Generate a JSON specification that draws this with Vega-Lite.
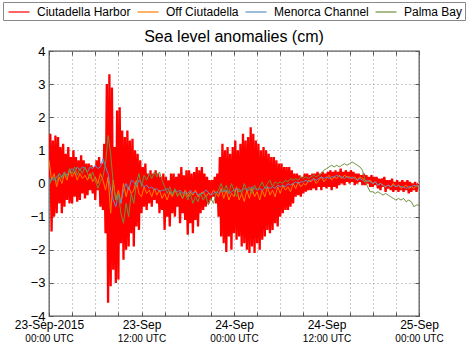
{
  "$schema": "https://vega.github.io/schema/vega-lite/v6.json",
  "width": 370,
  "height": 265,
  "autosize": {"type": "none"},
  "padding": {"left": 49, "top": 51, "right": 49, "bottom": 37},
  "background": "white",
  "config": {
    "font": "Liberation Sans",
    "view": {"stroke": "#555", "strokeWidth": 1.3},
    "axis": {"labelFont": "Liberation Sans", "labelColor": "#000", "title": null}
  },
  "title": {"text": "Sea level anomalies (cm)", "fontSize": 16, "fontWeight": "normal", "font": "Liberation Sans", "anchor": "middle", "frame": "group", "baseline": "alphabetic", "offset": -56, "color": "#000"},
  "datasets": {
    "ch": [
      {"m":0,"v":0.2},{"m":10,"v":1.5},{"m":20,"v":-1.45},{"m":30,"v":1.3},{"m":40,"v":-1.0},{"m":50,"v":1.45},
      {"m":60,"v":-0.9},{"m":70,"v":1.4},{"m":80,"v":-0.6},{"m":90,"v":1.1},{"m":100,"v":-0.9},{"m":110,"v":1.2},
      {"m":120,"v":-0.7},{"m":130,"v":0.9},{"m":140,"v":-0.5},{"m":150,"v":1.1},{"m":160,"v":-0.6},{"m":170,"v":0.8},
      {"m":180,"v":-0.6},{"m":190,"v":1.0},{"m":200,"v":-0.4},{"m":210,"v":0.8},{"m":220,"v":-0.55},{"m":230,"v":0.7},
      {"m":240,"v":-0.5},{"m":250,"v":0.85},{"m":260,"v":-0.3},{"m":270,"v":0.7},{"m":280,"v":-0.45},{"m":290,"v":0.6},
      {"m":300,"v":-0.35},{"m":310,"v":0.6},{"m":320,"v":-0.2},{"m":330,"v":0.55},{"m":340,"v":-0.3},{"m":350,"v":0.5},
      {"m":360,"v":-0.5},{"m":370,"v":0.7},{"m":380,"v":-0.2},{"m":390,"v":0.8},{"m":400,"v":-0.7},{"m":410,"v":0.6},
      {"m":420,"v":-0.8},{"m":430,"v":1.2},{"m":440,"v":-1.5},{"m":450,"v":3.0},{"m":460,"v":-3.6},{"m":470,"v":3.3},
      {"m":480,"v":-3.1},{"m":490,"v":2.9},{"m":500,"v":-2.6},{"m":510,"v":1.1},{"m":520,"v":-3.0},{"m":530,"v":2.2},
      {"m":540,"v":-2.9},{"m":550,"v":2.3},{"m":560,"v":-1.8},{"m":570,"v":1.6},{"m":580,"v":-2.3},{"m":590,"v":1.4},
      {"m":600,"v":-2.0},{"m":610,"v":1.6},{"m":620,"v":-1.9},{"m":630,"v":1.3},{"m":640,"v":-1.5},{"m":650,"v":1.35},
      {"m":660,"v":-1.9},{"m":670,"v":1.0},{"m":680,"v":-1.3},{"m":690,"v":0.9},{"m":700,"v":-1.4},{"m":710,"v":0.7},
      {"m":720,"v":-0.9},{"m":730,"v":0.5},{"m":740,"v":-0.7},{"m":750,"v":0.6},{"m":760,"v":-0.8},{"m":770,"v":0.3},
      {"m":780,"v":-0.6},{"m":790,"v":0.4},{"m":800,"v":-0.7},{"m":810,"v":0.3},{"m":820,"v":-0.5},{"m":830,"v":0.4},
      {"m":840,"v":-0.6},{"m":850,"v":0.3},{"m":860,"v":-0.9},{"m":870,"v":0.2},{"m":880,"v":-0.8},{"m":890,"v":0.3},
      {"m":900,"v":-1.4},{"m":910,"v":0.2},{"m":920,"v":-1.0},{"m":930,"v":0.1},{"m":940,"v":-1.3},{"m":950,"v":0.3},
      {"m":960,"v":-0.9},{"m":970,"v":0.3},{"m":980,"v":-1.0},{"m":990,"v":0.2},{"m":1000,"v":-0.7},{"m":1010,"v":0.3},
      {"m":1020,"v":-1.2},{"m":1030,"v":0.5},{"m":1040,"v":-0.9},{"m":1050,"v":0.25},{"m":1060,"v":-1.1},{"m":1070,"v":0.4},
      {"m":1080,"v":-1.55},{"m":1090,"v":0.4},{"m":1100,"v":-1.2},{"m":1110,"v":0.3},{"m":1120,"v":-1.5},{"m":1130,"v":0.35},
      {"m":1140,"v":-1.1},{"m":1150,"v":0.5},{"m":1160,"v":-1.3},{"m":1170,"v":0.4},{"m":1180,"v":-0.9},{"m":1190,"v":0.5},
      {"m":1200,"v":-0.8},{"m":1210,"v":0.3},{"m":1220,"v":-0.7},{"m":1230,"v":0.2},{"m":1240,"v":-0.6},{"m":1250,"v":0.1},
      {"m":1260,"v":-0.5},{"m":1270,"v":0.1},{"m":1280,"v":-0.4},{"m":1290,"v":0.2},{"m":1300,"v":-0.6},{"m":1310,"v":0.3},
      {"m":1320,"v":-1.0},{"m":1330,"v":0.8},{"m":1340,"v":-1.6},{"m":1350,"v":1.2},{"m":1360,"v":-1.8},{"m":1370,"v":1.0},
      {"m":1380,"v":-2.07},{"m":1390,"v":1.1},{"m":1400,"v":-1.6},{"m":1410,"v":0.9},{"m":1420,"v":-2.0},{"m":1430,"v":1.1},
      {"m":1440,"v":-1.5},{"m":1450,"v":1.3},{"m":1460,"v":-1.7},{"m":1470,"v":1.0},{"m":1480,"v":-1.6},{"m":1490,"v":1.2},
      {"m":1500,"v":-1.9},{"m":1510,"v":1.5},{"m":1520,"v":-1.8},{"m":1530,"v":1.3},{"m":1540,"v":-2.0},{"m":1550,"v":1.4},
      {"m":1560,"v":-2.1},{"m":1570,"v":1.7},{"m":1580,"v":-1.9},{"m":1590,"v":1.5},{"m":1600,"v":-2.1},{"m":1610,"v":1.3},
      {"m":1620,"v":-1.8},{"m":1630,"v":1.2},{"m":1640,"v":-2.0},{"m":1650,"v":1.0},{"m":1660,"v":-1.7},{"m":1670,"v":1.1},
      {"m":1680,"v":-1.6},{"m":1690,"v":1.0},{"m":1700,"v":-1.4},{"m":1710,"v":0.9},{"m":1720,"v":-1.5},{"m":1730,"v":0.8},
      {"m":1740,"v":-1.4},{"m":1750,"v":0.8},{"m":1760,"v":-1.2},{"m":1770,"v":0.7},{"m":1780,"v":-1.3},{"m":1790,"v":0.6},
      {"m":1800,"v":-1.0},{"m":1810,"v":0.6},{"m":1820,"v":-0.9},{"m":1830,"v":0.5},{"m":1840,"v":-0.8},{"m":1850,"v":0.5},
      {"m":1860,"v":-0.8},{"m":1870,"v":0.5},{"m":1880,"v":-0.7},{"m":1890,"v":0.4},{"m":1900,"v":-0.6},{"m":1910,"v":0.3},
      {"m":1920,"v":-0.4},{"m":1930,"v":0.3},{"m":1940,"v":-0.35},{"m":1950,"v":0.25},{"m":1960,"v":-0.4},{"m":1970,"v":0.2},
      {"m":1980,"v":-0.3},{"m":1990,"v":0.3},{"m":2000,"v":-0.25},{"m":2010,"v":0.3},{"m":2020,"v":-0.2},{"m":2030,"v":0.25},
      {"m":2040,"v":-0.2},{"m":2050,"v":0.3},{"m":2060,"v":-0.15},{"m":2070,"v":0.3},{"m":2080,"v":-0.2},{"m":2090,"v":0.35},
      {"m":2100,"v":-0.1},{"m":2110,"v":0.3},{"m":2120,"v":-0.2},{"m":2130,"v":0.35},{"m":2140,"v":-0.1},{"m":2150,"v":0.3},
      {"m":2160,"v":-0.15},{"m":2170,"v":0.35},{"m":2180,"v":-0.1},{"m":2190,"v":0.4},{"m":2200,"v":-0.2},{"m":2210,"v":0.35},
      {"m":2220,"v":-0.1},{"m":2230,"v":0.4},{"m":2240,"v":-0.15},{"m":2250,"v":0.35},{"m":2260,"v":-0.05},{"m":2270,"v":0.45},
      {"m":2280,"v":0.0},{"m":2290,"v":0.35},{"m":2300,"v":-0.05},{"m":2310,"v":0.4},{"m":2320,"v":0.05},{"m":2330,"v":0.35},
      {"m":2340,"v":0.0},{"m":2350,"v":0.4},{"m":2360,"v":0.05},{"m":2370,"v":0.35},{"m":2380,"v":-0.05},{"m":2390,"v":0.3},
      {"m":2400,"v":0.0},{"m":2410,"v":0.3},{"m":2420,"v":0.05},{"m":2430,"v":0.25},{"m":2440,"v":-0.05},{"m":2450,"v":0.3},
      {"m":2460,"v":-0.05},{"m":2470,"v":0.25},{"m":2480,"v":0.0},{"m":2490,"v":0.2},{"m":2500,"v":-0.1},{"m":2510,"v":0.25},
      {"m":2520,"v":-0.1},{"m":2530,"v":0.2},{"m":2540,"v":-0.05},{"m":2550,"v":0.2},{"m":2560,"v":-0.15},{"m":2570,"v":0.15},
      {"m":2580,"v":-0.2},{"m":2590,"v":0.15},{"m":2600,"v":-0.1},{"m":2610,"v":0.2},{"m":2620,"v":-0.25},{"m":2630,"v":0.1},
      {"m":2640,"v":-0.15},{"m":2650,"v":0.1},{"m":2660,"v":-0.2},{"m":2670,"v":0.15},{"m":2680,"v":-0.25},{"m":2690,"v":0.05},
      {"m":2700,"v":-0.2},{"m":2710,"v":0.1},{"m":2720,"v":-0.25},{"m":2730,"v":0.05},{"m":2740,"v":-0.2},{"m":2750,"v":0.1},
      {"m":2760,"v":-0.25},{"m":2770,"v":0.05},{"m":2780,"v":-0.2},{"m":2790,"v":0.1},{"m":2800,"v":-0.3},{"m":2810,"v":0.05},
      {"m":2820,"v":-0.25},{"m":2830,"v":0.0},{"m":2840,"v":-0.2},{"m":2850,"v":0.05},{"m":2860,"v":-0.25},{"m":2870,"v":-0.05},
      {"m":2880,"v":-0.1}
    ],
    "oc": [
      {"m":0,"v":0.7},{"m":20,"v":0.1},{"m":40,"v":0.3},{"m":60,"v":-0.1},{"m":80,"v":0.2},{"m":100,"v":0.0},
      {"m":120,"v":0.3},{"m":140,"v":0.1},{"m":160,"v":0.4},{"m":180,"v":0.2},{"m":200,"v":0.35},{"m":220,"v":0.1},
      {"m":240,"v":0.3},{"m":260,"v":0.15},{"m":280,"v":0.25},{"m":300,"v":0.1},{"m":320,"v":0.3},{"m":340,"v":0.05},
      {"m":360,"v":0.2},{"m":380,"v":0.0},{"m":400,"v":0.3},{"m":420,"v":0.1},{"m":440,"v":-0.2},{"m":460,"v":0.2},
      {"m":480,"v":-0.9},{"m":500,"v":0.1},{"m":520,"v":-0.5},{"m":540,"v":-0.2},{"m":560,"v":-0.6},{"m":580,"v":0.0},
      {"m":600,"v":-0.4},{"m":620,"v":-0.1},{"m":640,"v":-0.3},{"m":660,"v":-0.2},{"m":680,"v":0.1},{"m":700,"v":-0.3},
      {"m":720,"v":-0.4},{"m":740,"v":-0.1},{"m":760,"v":-0.3},{"m":780,"v":-0.2},{"m":800,"v":-0.4},{"m":820,"v":-0.15},
      {"m":840,"v":-0.35},{"m":860,"v":-0.2},{"m":880,"v":-0.45},{"m":900,"v":-0.3},{"m":920,"v":-0.5},{"m":940,"v":-0.25},
      {"m":960,"v":-0.4},{"m":980,"v":-0.2},{"m":1000,"v":-0.35},{"m":1020,"v":-0.3},{"m":1040,"v":-0.45},{"m":1060,"v":-0.2},
      {"m":1080,"v":-0.4},{"m":1100,"v":-0.25},{"m":1120,"v":-0.35},{"m":1140,"v":-0.2},{"m":1160,"v":-0.4},{"m":1180,"v":-0.3},
      {"m":1200,"v":-0.25},{"m":1220,"v":-0.4},{"m":1240,"v":-0.3},{"m":1260,"v":-0.35},{"m":1280,"v":-0.2},{"m":1300,"v":-0.3},
      {"m":1320,"v":-0.4},{"m":1340,"v":-0.15},{"m":1360,"v":-0.45},{"m":1380,"v":-0.2},{"m":1400,"v":-0.5},{"m":1420,"v":-0.3},
      {"m":1440,"v":-0.4},{"m":1460,"v":-0.1},{"m":1480,"v":-0.5},{"m":1500,"v":-0.3},{"m":1520,"v":-0.55},{"m":1540,"v":-0.2},
      {"m":1560,"v":-0.45},{"m":1580,"v":-0.15},{"m":1600,"v":-0.4},{"m":1620,"v":-0.25},{"m":1640,"v":-0.5},{"m":1660,"v":-0.2},
      {"m":1680,"v":-0.4},{"m":1700,"v":-0.1},{"m":1720,"v":-0.35},{"m":1740,"v":-0.2},{"m":1760,"v":-0.4},{"m":1780,"v":-0.1},
      {"m":1800,"v":-0.3},{"m":1820,"v":-0.05},{"m":1840,"v":-0.2},{"m":1860,"v":-0.1},{"m":1880,"v":-0.25},{"m":1900,"v":0.0},
      {"m":1920,"v":-0.15},{"m":1940,"v":0.05},{"m":1960,"v":-0.1},{"m":1980,"v":0.0},{"m":2000,"v":-0.05},{"m":2020,"v":0.1},
      {"m":2040,"v":0.05},{"m":2060,"v":0.15},{"m":2080,"v":0.0},{"m":2100,"v":0.1},{"m":2120,"v":0.2},{"m":2140,"v":0.05},
      {"m":2160,"v":0.15},{"m":2180,"v":0.25},{"m":2200,"v":0.1},{"m":2220,"v":0.2},{"m":2240,"v":0.15},{"m":2260,"v":0.25},
      {"m":2280,"v":0.15},{"m":2300,"v":0.25},{"m":2320,"v":0.2},{"m":2340,"v":0.2},{"m":2360,"v":0.15},{"m":2380,"v":0.2},
      {"m":2400,"v":0.1},{"m":2420,"v":0.2},{"m":2440,"v":0.15},{"m":2460,"v":0.1},{"m":2480,"v":0.05},{"m":2500,"v":0.1},
      {"m":2520,"v":0.0},{"m":2540,"v":0.05},{"m":2560,"v":-0.05},{"m":2580,"v":0.0},{"m":2600,"v":-0.05},{"m":2620,"v":-0.1},
      {"m":2640,"v":-0.05},{"m":2660,"v":-0.1},{"m":2680,"v":0.0},{"m":2700,"v":-0.1},{"m":2720,"v":-0.05},{"m":2740,"v":-0.15},
      {"m":2760,"v":-0.1},{"m":2780,"v":-0.05},{"m":2800,"v":-0.15},{"m":2820,"v":-0.1},{"m":2840,"v":-0.15},{"m":2860,"v":-0.05},
      {"m":2880,"v":-0.1}
    ],
    "mc": [
      {"m":0,"v":0.0},{"m":20,"v":0.15},{"m":40,"v":0.1},{"m":60,"v":0.2},{"m":80,"v":0.3},{"m":100,"v":0.2},
      {"m":120,"v":0.35},{"m":140,"v":0.25},{"m":160,"v":0.4},{"m":180,"v":0.45},{"m":200,"v":0.35},{"m":220,"v":0.5},
      {"m":240,"v":0.4},{"m":260,"v":0.5},{"m":280,"v":0.45},{"m":300,"v":0.35},{"m":320,"v":0.5},{"m":340,"v":0.45},
      {"m":360,"v":0.55},{"m":380,"v":0.45},{"m":400,"v":0.5},{"m":420,"v":0.75},{"m":440,"v":0.5},{"m":460,"v":0.3},
      {"m":480,"v":-0.2},{"m":500,"v":-0.5},{"m":520,"v":-0.7},{"m":540,"v":-0.3},{"m":560,"v":-0.6},{"m":580,"v":-0.2},
      {"m":600,"v":0.0},{"m":620,"v":-0.2},{"m":640,"v":0.1},{"m":660,"v":0.05},{"m":680,"v":-0.1},{"m":700,"v":0.1},
      {"m":720,"v":0.0},{"m":740,"v":-0.1},{"m":760,"v":-0.05},{"m":780,"v":-0.15},{"m":800,"v":-0.1},{"m":820,"v":-0.2},
      {"m":840,"v":-0.15},{"m":860,"v":-0.25},{"m":880,"v":-0.2},{"m":900,"v":-0.2},{"m":920,"v":-0.15},{"m":940,"v":-0.25},
      {"m":960,"v":-0.3},{"m":980,"v":-0.2},{"m":1000,"v":-0.25},{"m":1020,"v":-0.2},{"m":1040,"v":-0.3},{"m":1060,"v":-0.25},
      {"m":1080,"v":-0.3},{"m":1100,"v":-0.2},{"m":1120,"v":-0.3},{"m":1140,"v":-0.25},{"m":1160,"v":-0.35},{"m":1180,"v":-0.3},
      {"m":1200,"v":-0.3},{"m":1220,"v":-0.2},{"m":1240,"v":-0.25},{"m":1260,"v":-0.35},{"m":1280,"v":-0.3},{"m":1300,"v":-0.25},
      {"m":1320,"v":-0.3},{"m":1340,"v":-0.2},{"m":1360,"v":-0.25},{"m":1380,"v":-0.2},{"m":1400,"v":-0.3},{"m":1420,"v":-0.25},
      {"m":1440,"v":-0.2},{"m":1460,"v":-0.15},{"m":1480,"v":-0.25},{"m":1500,"v":-0.2},{"m":1520,"v":-0.15},{"m":1540,"v":-0.2},
      {"m":1560,"v":-0.2},{"m":1580,"v":-0.1},{"m":1600,"v":-0.15},{"m":1620,"v":-0.2},{"m":1640,"v":-0.15},{"m":1660,"v":-0.2},
      {"m":1680,"v":-0.15},{"m":1700,"v":-0.1},{"m":1720,"v":-0.15},{"m":1740,"v":-0.1},{"m":1760,"v":-0.15},{"m":1780,"v":-0.05},
      {"m":1800,"v":-0.1},{"m":1820,"v":-0.05},{"m":1840,"v":-0.1},{"m":1860,"v":0.0},{"m":1880,"v":-0.05},{"m":1900,"v":0.0},
      {"m":1920,"v":0.05},{"m":1940,"v":0.0},{"m":1960,"v":0.05},{"m":1980,"v":0.05},{"m":2000,"v":0.1},{"m":2020,"v":0.05},
      {"m":2040,"v":0.1},{"m":2060,"v":0.15},{"m":2080,"v":0.1},{"m":2100,"v":0.15},{"m":2120,"v":0.2},{"m":2140,"v":0.15},
      {"m":2160,"v":0.2},{"m":2180,"v":0.15},{"m":2200,"v":0.2},{"m":2220,"v":0.2},{"m":2240,"v":0.25},{"m":2260,"v":0.2},
      {"m":2280,"v":0.2},{"m":2300,"v":0.15},{"m":2320,"v":0.2},{"m":2340,"v":0.15},{"m":2360,"v":0.2},{"m":2380,"v":0.15},
      {"m":2400,"v":0.1},{"m":2420,"v":0.15},{"m":2440,"v":0.1},{"m":2460,"v":0.05},{"m":2480,"v":0.1},{"m":2500,"v":0.05},
      {"m":2520,"v":0.0},{"m":2540,"v":0.05},{"m":2560,"v":-0.05},{"m":2580,"v":0.0},{"m":2600,"v":-0.05},{"m":2620,"v":-0.1},
      {"m":2640,"v":-0.05},{"m":2660,"v":-0.1},{"m":2680,"v":-0.05},{"m":2700,"v":-0.1},{"m":2720,"v":-0.05},{"m":2740,"v":-0.1},
      {"m":2760,"v":-0.1},{"m":2780,"v":-0.15},{"m":2800,"v":-0.1},{"m":2820,"v":-0.1},{"m":2840,"v":-0.05},{"m":2860,"v":-0.1},
      {"m":2880,"v":-0.05}
    ],
    "pb": [
      {"m":0,"v":-0.05},{"m":20,"v":0.1},{"m":40,"v":0.2},{"m":60,"v":0.05},{"m":80,"v":0.3},{"m":100,"v":0.15},
      {"m":120,"v":0.35},{"m":140,"v":0.2},{"m":160,"v":0.45},{"m":180,"v":0.3},{"m":200,"v":0.5},{"m":220,"v":0.25},
      {"m":240,"v":0.45},{"m":260,"v":0.3},{"m":280,"v":0.5},{"m":300,"v":0.3},{"m":320,"v":0.15},{"m":340,"v":0.35},
      {"m":360,"v":0.1},{"m":380,"v":-0.15},{"m":400,"v":0.05},{"m":420,"v":0.2},{"m":440,"v":0.6},{"m":460,"v":1.45},
      {"m":480,"v":0.9},{"m":500,"v":0.0},{"m":520,"v":-0.5},{"m":540,"v":-0.3},{"m":560,"v":-0.9},{"m":580,"v":-1.2},
      {"m":600,"v":-0.6},{"m":620,"v":-1.0},{"m":640,"v":-0.3},{"m":660,"v":-0.6},{"m":680,"v":0.0},{"m":700,"v":0.3},
      {"m":720,"v":-0.1},{"m":740,"v":0.25},{"m":760,"v":0.1},{"m":780,"v":0.3},{"m":800,"v":0.15},{"m":820,"v":0.35},
      {"m":840,"v":0.2},{"m":860,"v":0.35},{"m":880,"v":0.1},{"m":900,"v":-0.1},{"m":920,"v":-0.3},{"m":940,"v":-0.1},
      {"m":960,"v":-0.35},{"m":980,"v":-0.15},{"m":1000,"v":-0.4},{"m":1020,"v":-0.25},{"m":1040,"v":-0.45},{"m":1060,"v":-0.3},
      {"m":1080,"v":-0.5},{"m":1100,"v":-0.3},{"m":1120,"v":-0.6},{"m":1140,"v":-0.4},{"m":1160,"v":-0.55},{"m":1180,"v":-0.3},
      {"m":1200,"v":-0.5},{"m":1220,"v":-0.35},{"m":1240,"v":-0.65},{"m":1260,"v":-0.45},{"m":1280,"v":-0.6},{"m":1300,"v":-0.3},
      {"m":1320,"v":-0.2},{"m":1340,"v":0.0},{"m":1360,"v":-0.25},{"m":1380,"v":-0.05},{"m":1400,"v":-0.3},{"m":1420,"v":0.0},
      {"m":1440,"v":-0.2},{"m":1460,"v":-0.4},{"m":1480,"v":-0.15},{"m":1500,"v":-0.3},{"m":1520,"v":0.0},{"m":1540,"v":-0.2},
      {"m":1560,"v":-0.1},{"m":1580,"v":-0.3},{"m":1600,"v":-0.05},{"m":1620,"v":-0.2},{"m":1640,"v":-0.1},{"m":1660,"v":0.05},
      {"m":1680,"v":-0.15},{"m":1700,"v":0.0},{"m":1720,"v":0.1},{"m":1740,"v":-0.1},{"m":1760,"v":0.05},{"m":1780,"v":0.0},
      {"m":1800,"v":0.05},{"m":1820,"v":0.0},{"m":1840,"v":0.1},{"m":1860,"v":0.05},{"m":1880,"v":0.15},{"m":1900,"v":0.1},
      {"m":1920,"v":0.15},{"m":1940,"v":0.1},{"m":1960,"v":0.2},{"m":1980,"v":0.15},{"m":2000,"v":0.2},{"m":2020,"v":0.15},
      {"m":2040,"v":0.2},{"m":2060,"v":0.25},{"m":2080,"v":0.2},{"m":2100,"v":0.25},{"m":2120,"v":0.3},{"m":2140,"v":0.4},
      {"m":2160,"v":0.45},{"m":2180,"v":0.5},{"m":2200,"v":0.55},{"m":2220,"v":0.5},{"m":2240,"v":0.55},{"m":2260,"v":0.5},
      {"m":2280,"v":0.55},{"m":2300,"v":0.6},{"m":2320,"v":0.55},{"m":2340,"v":0.6},{"m":2360,"v":0.65},{"m":2380,"v":0.6},
      {"m":2400,"v":0.55},{"m":2420,"v":0.5},{"m":2440,"v":0.4},{"m":2460,"v":0.1},{"m":2480,"v":-0.1},{"m":2500,"v":-0.25},
      {"m":2520,"v":-0.25},{"m":2540,"v":-0.3},{"m":2560,"v":-0.25},{"m":2580,"v":-0.3},{"m":2600,"v":-0.35},{"m":2620,"v":-0.3},
      {"m":2640,"v":-0.35},{"m":2660,"v":-0.4},{"m":2680,"v":-0.45},{"m":2700,"v":-0.5},{"m":2720,"v":-0.45},{"m":2740,"v":-0.5},
      {"m":2760,"v":-0.45},{"m":2780,"v":-0.55},{"m":2800,"v":-0.5},{"m":2820,"v":-0.55},{"m":2840,"v":-0.7},{"m":2860,"v":-0.65},
      {"m":2880,"v":-0.65}
    ]
  },
  "layer": [
    {
      "data": {"name": "ch"},
      "mark": {"type": "line", "strokeWidth": 2.3, "clip": true},
      "encoding": {
        "x": {"field": "m", "type": "quantitative", "scale": {"domain": [0, 2880], "nice": false, "zero": false},
          "axis": {"orient": "bottom", "values": [0,180,360,540,720,900,1080,1260,1440,1620,1800,1980,2160,2340,2520,2700,2880],
            "labelExpr": "datum.value == 0 ? '23-Sep-2015' : datum.value == 720 ? '23-Sep' : (datum.value == 1440 || datum.value == 2160) ? '24-Sep' : datum.value == 2880 ? '25-Sep' : ''",
            "grid": true, "gridDash": [1, 3], "gridColor": "#999", "gridWidth": 1, "tickSize": -4, "tickColor": "#555", "domain": false,
            "labelFontSize": 12, "labelPadding": 7, "labelFlush": false, "labelOverlap": false, "labelBound": false}},
        "y": {"field": "v", "type": "quantitative", "scale": {"domain": [-4, 4], "nice": false},
          "axis": {"orient": "left", "values": [-4,-3,-2,-1,0,1,2,3,4], "grid": true, "gridDash": [1, 3], "gridColor": "#999",
            "tickSize": -4, "tickColor": "#555", "domain": false, "labelFontSize": 13, "labelPadding": 8, "labelFlush": false, "labelOverlap": false, "labelBound": false}},
        "color": {"datum": "Ciutadella Harbor", "type": "nominal",
          "scale": {"domain": ["Ciutadella Harbor", "Off Ciutadella", "Menorca Channel", "Palma Bay"], "range": ["#ff0000", "#ff8000", "#5b8ec8", "#6f9040"]},
          "legend": {"orient": "none", "legendX": -46, "legendY": -49, "direction": "horizontal", "columns": 4, "title": null,
            "symbolType": "M-1.5,0H1.5", "symbolSize": 196, "symbolStrokeWidth": 2, "symbolOpacity": 0.6, "symbolOffset": 6, "labelFontSize": 12, "labelFont": "Liberation Sans",
            "labelColor": "#000", "labelOffset": 10, "columnPadding": 2, "padding": 2, "strokeColor": "#888", "fillColor": "white", "labelLimit": 200}}
      }
    },
    {
      "data": {"name": "oc"},
      "mark": {"type": "line", "strokeWidth": 1, "clip": true},
      "encoding": {
        "x": {"field": "m", "type": "quantitative",
          "axis": {"orient": "bottom", "values": [0,720,1440,2160,2880],
            "labelExpr": "datum.value % 1440 == 0 ? '00:00 UTC' : '12:00 UTC'",
            "grid": false, "ticks": false, "domain": false, "labelFontSize": 10, "labelPadding": 17, "labelFlush": false, "labelOverlap": false, "labelBound": false}},
        "y": {"field": "v", "type": "quantitative",
          "axis": {"orient": "right", "values": [-4,-3,-2,-1,0,1,2,3,4], "labels": false, "grid": false, "tickSize": -4, "tickColor": "#555", "domain": false}},
        "color": {"datum": "Off Ciutadella", "type": "nominal"}
      }
    },
    {
      "data": {"name": "mc"},
      "mark": {"type": "line", "strokeWidth": 1, "clip": true},
      "encoding": {
        "x": {"field": "m", "type": "quantitative",
          "axis": {"orient": "top", "values": [0,180,360,540,720,900,1080,1260,1440,1620,1800,1980,2160,2340,2520,2700,2880], "labels": false, "grid": false, "tickSize": -4, "tickColor": "#555", "domain": false}},
        "y": {"field": "v", "type": "quantitative", "axis": null},
        "color": {"datum": "Menorca Channel", "type": "nominal"}
      }
    },
    {
      "data": {"name": "pb"},
      "mark": {"type": "line", "strokeWidth": 1, "clip": true},
      "encoding": {
        "x": {"field": "m", "type": "quantitative", "axis": null},
        "y": {"field": "v", "type": "quantitative", "axis": null},
        "color": {"datum": "Palma Bay", "type": "nominal"}
      }
    }
  ],
  "resolve": {"axis": {"x": "independent", "y": "independent"}}
}
